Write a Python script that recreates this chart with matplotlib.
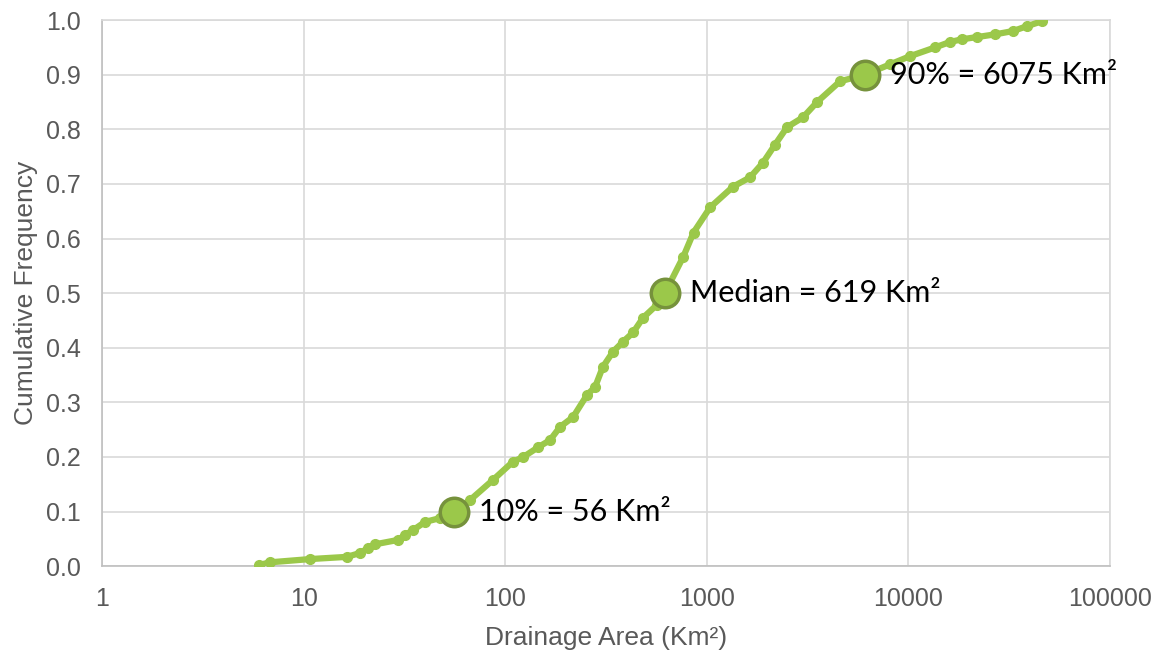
import matplotlib
matplotlib.use('Agg')
import matplotlib.pyplot as plt
from matplotlib.ticker import FixedLocator, FixedFormatter

# cumulative distribution
area = [6.0, 6.8, 10.8, 16.4, 19.0, 20.9, 22.6, 29.4, 31.8, 34.9, 40.0, 47.5, 56,
        66.9, 87, 109, 123, 146, 167, 187, 217, 255, 279, 305, 343, 384, 431,
        483, 567, 619, 765, 859, 1038, 1349, 1637, 1900, 2180, 2500, 3000, 3523,
        4580, 6075, 8110, 10180, 13550, 16070, 18450, 21900, 26900, 33000,
        38750, 46000]
freq = [0.002, 0.007, 0.013, 0.017, 0.024, 0.033, 0.040, 0.048, 0.057, 0.066,
        0.081, 0.088, 0.100, 0.121, 0.158, 0.191, 0.200, 0.218, 0.231, 0.255,
        0.273, 0.314, 0.328, 0.365, 0.393, 0.411, 0.428, 0.455, 0.479, 0.500,
        0.567, 0.611, 0.657, 0.695, 0.712, 0.739, 0.772, 0.804, 0.822, 0.850,
        0.888, 0.900, 0.919, 0.934, 0.950, 0.960, 0.965, 0.969, 0.974, 0.980,
        0.989, 0.998]

key_area = [56, 619, 6075]
key_freq = [0.1, 0.5, 0.9]
key_text = ['10% = 56 Km\u00b2', 'Median = 619 Km\u00b2', '90% = 6075 Km\u00b2']

x_ticks = [1, 10, 100, 1000, 10000, 100000]
x_labels = ['1', '10', '100', '1000', '10000', '100000']
y_ticks = [0.0, 0.1, 0.2, 0.3, 0.4, 0.5, 0.6, 0.7, 0.8, 0.9, 1.0]

green = '#9BC84A'
dark = '#76923C'
grey = '#595959'
grid = '#D9D9D9'

fig = plt.figure(figsize=(11.66, 6.5), dpi=100)
ax = fig.add_axes([0.0875, 0.129, 0.8645, 0.84])

ax.plot(area, freq, color=green, lw=4.5, marker='o', ms=7, mec=green, zorder=3)
ax.scatter(key_area, key_freq, s=420, color=green, edgecolors=dark, linewidths=2.5, zorder=4)
for xa, ya, t in zip(key_area, key_freq, key_text):
    ax.annotate(t, (xa, ya), xytext=(18, 0), textcoords='offset points',
                ha='left', va='center', fontsize=22, family='Lato', color='black')

ax.set_xscale('log')
ax.set_xlim(1, 100000)
ax.set_ylim(0, 1.0)
ax.xaxis.set_major_locator(FixedLocator(x_ticks))
ax.xaxis.set_major_formatter(FixedFormatter(x_labels))
ax.xaxis.set_minor_locator(FixedLocator([]))
ax.set_yticks(y_ticks)
ax.set_yticklabels(['%.1f' % v for v in y_ticks])

ax.grid(True, color=grid, lw=1.2)
ax.set_axisbelow(True)
for s in ax.spines.values():
    s.set_color(grid)
    s.set_linewidth(1.2)
ax.spines['bottom'].set_color('#BFBFBF')
ax.spines['left'].set_color('#BFBFBF')
ax.tick_params(length=0, labelsize=18, colors=grey, pad=15)
for lab in ax.get_xticklabels() + ax.get_yticklabels():
    lab.set_family('Liberation Sans')

ax.set_xlabel('Drainage Area (Km\u00b2)', fontsize=19, color=grey, family='Liberation Sans', labelpad=11)
ax.set_ylabel('Cumulative Frequency', fontsize=19, color=grey, family='Liberation Sans', labelpad=6)

fig.savefig('out.png', dpi=100)
